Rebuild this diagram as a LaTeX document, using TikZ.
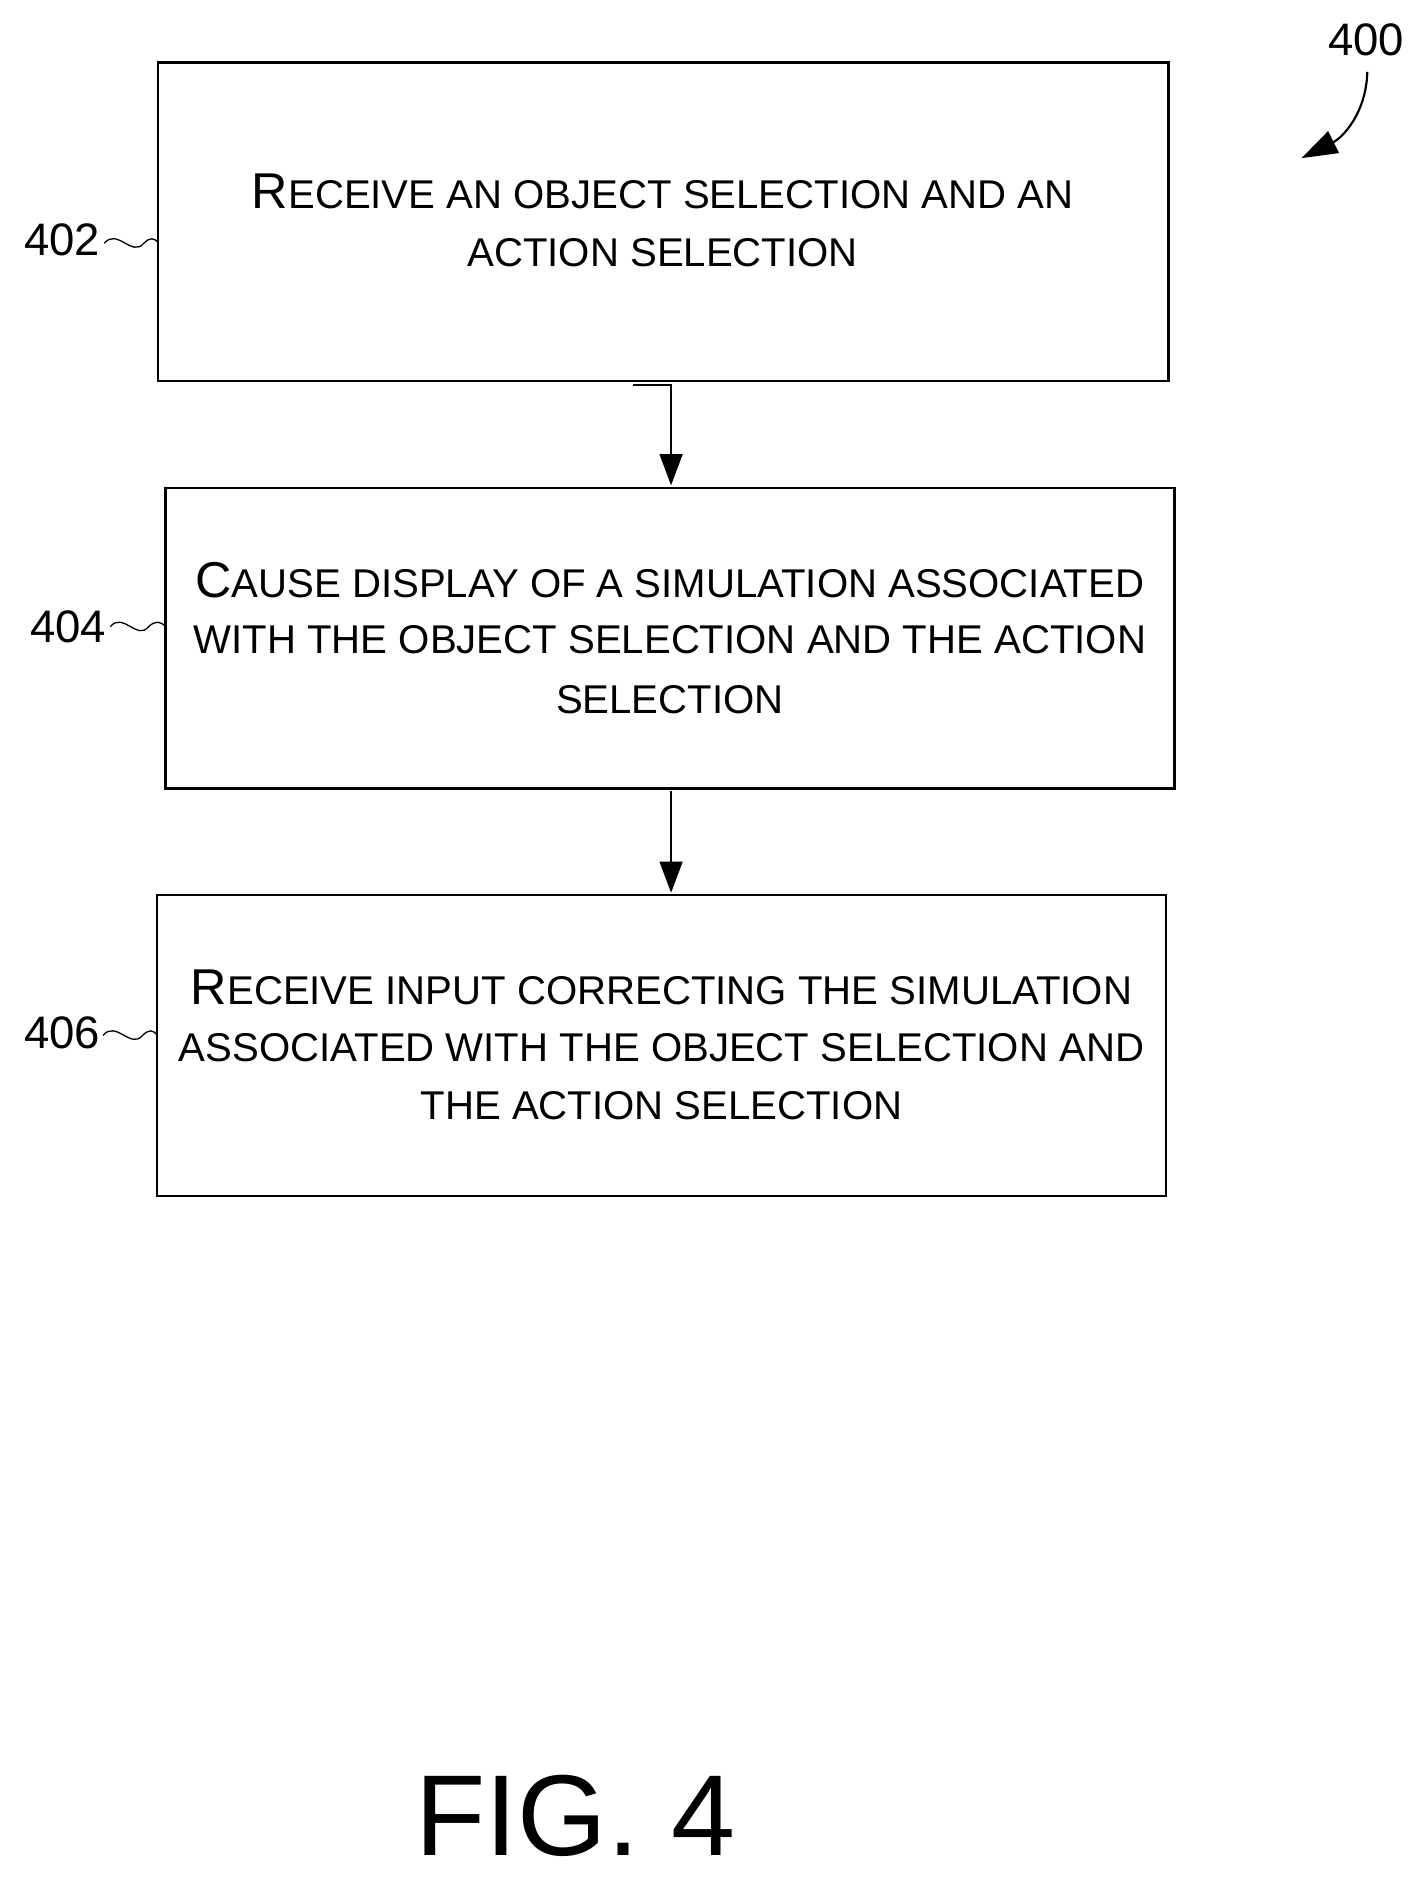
\documentclass[tikz,border=0pt]{standalone}
\usepackage{fontspec}
\setmainfont{Liberation Sans}
\usetikzlibrary{arrows.meta}
\newcommand{\BC}[1]{{\fontsize{42}{44}\selectfont #1}}
\newcommand{\SC}[1]{{\fontsize{33.5}{44}\selectfont #1}}
\begin{document}
\begin{tikzpicture}[x=1pt,y=-1pt,
  box/.style={draw,line width=2pt},
  txt/.style={align=center,inner sep=0pt},
  lab/.style={font=\fontsize{38}{40}\selectfont,inner sep=0pt},
  arr/.style={line width=1.8pt,-{Triangle[length=26pt,width=19pt]}},
  sq/.style={line width=1.1pt}]
\useasboundingbox (0,0) rectangle (1190,1568);
\draw[box] (132,52) rectangle (975,318);
\draw[box] (138,407) rectangle (980,658);
\draw[box] (131,747) rectangle (973,998);
\node[txt] (t1) at (553,160) {\BC{R}\SC{ECEIVE AN OBJECT SELECTION AND AN}};
\node[txt] (t1b) at (553,211) {\SC{ACTION SELECTION}};
\node[txt] (t2) at (559,484) {\BC{C}\SC{AUSE DISPLAY OF A SIMULATION ASSOCIATED}};
\node[txt] (t2b) at (559,534) {\SC{WITH THE OBJECT SELECTION AND THE ACTION}};
\node[txt] (t2c) at (559,584) {\SC{SELECTION}};
\node[txt] (t3) at (552,824) {\BC{R}\SC{ECEIVE INPUT CORRECTING THE SIMULATION}};
\node[txt] (t3b) at (552,874) {\SC{ASSOCIATED WITH THE OBJECT SELECTION AND}};
\node[txt] (t3c) at (552,923) {\SC{THE ACTION SELECTION}};
\coordinate (a1) at (528,321); \coordinate (a1e) at (560,405);
\draw[arr] (a1) -- (560,321) -- (a1e);
\coordinate (a2) at (560,660); \coordinate (a2e) at (560,745);
\draw[arr] (a2) -- (a2e);
\node[lab] (l402) at (52,200) {402};
\node[lab] (l404) at (57,523) {404};
\node[lab] (l406) at (52,862) {406};
\coordinate (s1) at (87,203); \coordinate (s1e) at (132,203);
\draw[sq] (s1) .. controls (98,190) and (110,215) .. (120,203) .. controls (125,198) and (129,198) .. (s1e);
\coordinate (s2) at (92,523); \coordinate (s2e) at (138,523);
\draw[sq] (s2) .. controls (103,510) and (114,535) .. (124,523) .. controls (129,518) and (134,518) .. (s2e);
\coordinate (s3) at (86,864); \coordinate (s3e) at (131,864);
\draw[sq] (s3) .. controls (97,851) and (109,876) .. (119,864) .. controls (124,859) and (128,859) .. (s3e);
\node[lab] (l400) at (1140,33) {400};
\coordinate (c0) at (1141,60); \coordinate (c1) at (1086,132);
\draw[line width=1.8pt,-{Triangle[length=30pt,width=20pt]}] (c0) .. controls (1140,95) and (1120,115) .. (c1);
\node[inner sep=0pt,font=\fontsize{96}{100}\selectfont] (fig) at (480,1515) {FIG. 4};
\end{tikzpicture}
\end{document}
